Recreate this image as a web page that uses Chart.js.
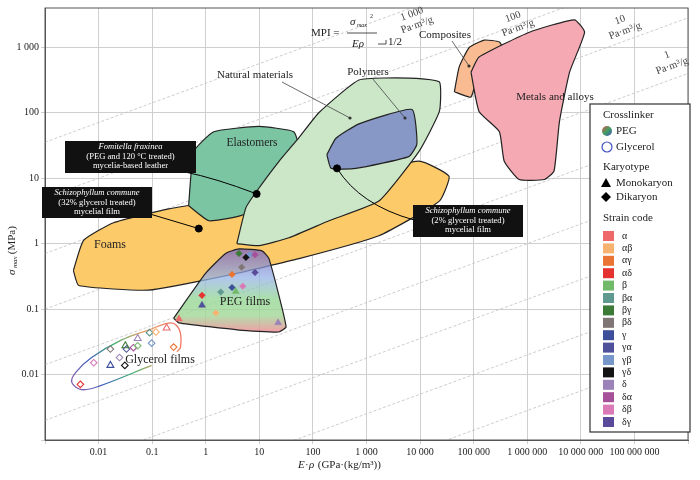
<!DOCTYPE html>
<html><head><meta charset="utf-8">
<script src="https://cdn.jsdelivr.net/npm/chart.js@4"></script>
<style>html,body{margin:0;padding:0;background:#fff}#w{width:700px;height:480px}</style>
</head><body><div id="w"><canvas id="c"></canvas></div>
<script>
// ---- data (log10 of E·rho, log10 of sigma_max) ----
const xTickExps = [-3,-2,-1,0,1,2,3,4,5,6,7,8,9];
const xTickLabels = ['', '0.01','0.1','1','10','100','1 000','10 000','100 000','1 000 000','10 000 000','100 000 000',''];
const yTickExps = [-3,-2,-1,0,1,2,3];
const yTickLabels = ['', '0.01','0.1','1','10','100','1 000'];

const foams = [[-2.47,-0.41],[-2.28,0.05],[-1.72,0.32],[-0.69,0.53],[0.62,0.71],[2.11,0.95],[3.98,1.26],[4.54,1.03],[4.36,0.65],[3.23,0.12],[1.74,-0.23],[0.43,-0.48],[-1.07,-0.71],[-2.37,-0.64]];
const natural = [[0.58,0.0],[0.75,0.55],[0.95,0.80],[1.36,1.25],[1.74,1.62],[2.11,2.0],[2.86,2.5],[3.79,2.53],[4.36,2.47],[4.36,2.02],[3.98,1.41],[3.23,0.65],[2.30,0.35],[1.55,0.09],[0.99,-0.03]];
const elastomers = [[-0.32,0.58],[-0.22,1.41],[0.15,1.71],[0.99,1.79],[1.64,1.71],[1.74,1.45],[1.36,0.80],[1.03,0.55],[0.62,0.42],[0.06,0.35]];
const polymers = [[2.26,1.36],[2.43,1.61],[2.86,1.83],[3.85,2.05],[3.94,1.52],[3.79,1.33],[2.80,1.15],[2.34,1.15]];
const composites = [[4.64,2.32],[4.73,2.70],[4.92,3.00],[5.20,3.11],[5.48,3.08],[5.57,2.92],[5.10,2.62],[4.95,2.24]];
const metals = [[4.95,2.62],[5.10,2.85],[6.04,3.23],[6.88,3.42],[7.07,3.23],[6.79,2.62],[6.60,1.86],[6.50,1.11],[6.32,0.98],[5.85,0.98],[5.57,1.26],[5.48,1.71],[5.10,2.02]];
const pegFilms = [[-0.60,-1.14],[0.0,-0.45],[0.37,-0.15],[0.62,-0.08],[1.05,-0.11],[1.18,-0.23],[1.50,-1.27],[1.36,-1.35],[0.62,-1.32],[-0.50,-1.21]];
const glycerolFilms = [[-1.01,-1.86],[-2.0,-2.18],[-2.32,-2.23],[-2.50,-2.12],[-2.43,-1.97],[-2.13,-1.74],[-1.57,-1.47],[-1.07,-1.32],[-0.64,-1.21],[-0.49,-1.32],[-0.47,-1.58],[-0.54,-1.65]];

const strainCodes = ['α','αβ','αγ','αδ','β','βα','βγ','βδ','γ','γα','γβ','γδ','δ','δα','δβ','δγ'];
const strainColors = ['#ee6a6a','#f8b26f','#ea7433','#e5312f','#72b96a','#5f9990','#3c7a38','#7f7675','#3e4f99','#4f519a','#7797cb','#141414','#9b82b8','#a6509a','#d97ab6','#5b4a9a'];

// PEG films (filled): [logx, logy, strain, shape]
const pegPts = [[0.62,-0.15,'βγ','d'],[0.82,-0.17,'γβ','d'],[0.92,-0.17,'δα','d'],[0.75,-0.21,'γδ','d'],[0.67,-0.36,'βδ','d'],[0.92,-0.44,'δγ','d'],[0.49,-0.47,'αγ','d'],[0.49,-0.67,'γ','d'],[0.69,-0.65,'δβ','d'],[0.56,-0.73,'β','t'],[0.28,-0.74,'βα','d'],[-0.07,-0.79,'αδ','d'],[-0.07,-0.94,'γα','t'],[0.19,-1.06,'αβ','d'],[-0.50,-1.15,'α','t'],[1.35,-1.21,'δ','t']];
// Glycerol films (hollow)
const glyPts = [[-2.34,-2.15,'αδ','d'],[-2.09,-1.82,'δβ','d'],[-1.78,-1.86,'γ','t'],[-1.61,-1.74,'δ','d'],[-1.51,-1.86,'γδ','d'],[-1.78,-1.61,'βδ','d'],[-1.48,-1.61,'γα','d'],[-1.50,-1.56,'βγ','t'],[-1.35,-1.59,'δα','d'],[-1.27,-1.56,'β','d'],[-1.27,-1.45,'δ','t'],[-1.05,-1.36,'βα','d'],[-1.01,-1.52,'γβ','d'],[-0.93,-1.35,'αβ','d'],[-0.73,-1.29,'α','t'],[-0.60,-1.58,'αγ','d']];
// highlighted samples
const highlight = [[0.95,0.76],[-0.13,0.23],[2.45,1.15]];
// MPI guide lines: log y = 0.3 log x + b
const mpiSlope = 0.3;
const mpiIntercepts = [2.45,1.6,0.75,-0.1,-0.95,-1.8,-2.65,-3.5,-4.35];

// ---- helpers ----
const P = a => ({x:Math.pow(10,a[0]), y:Math.pow(10,a[1])});
const closed = arr => arr.concat([arr[0]]).map(P);
const SERIF = '"Liberation Serif", "DejaVu Serif", serif';
const colorOf = s => strainColors[strainCodes.indexOf(s)];

function region(data, fill, order, extra){
  return Object.assign({type:'line', data:closed(data), borderColor:'#222', borderWidth:1.2, backgroundColor:fill, fill:'shape', pointRadius:0, tension:0.15, order:order}, extra||{});
}
function pegGradient(ctx){
  const ch = ctx.chart; if(!ch.chartArea) return 'rgba(160,170,220,0.7)';
  const ys = ch.scales.y;
  const t = ys.getPixelForValue(Math.pow(10,-0.08)), b = ys.getPixelForValue(Math.pow(10,-1.35));
  const g = ch.ctx.createLinearGradient(0,t,0,b);
  g.addColorStop(0,'rgba(120,95,190,0.75)');
  g.addColorStop(0.35,'rgba(150,180,230,0.75)');
  g.addColorStop(0.6,'rgba(150,215,150,0.8)');
  g.addColorStop(0.8,'rgba(160,215,150,0.8)');
  g.addColorStop(1,'rgba(240,140,150,0.85)');
  return g;
}
function glyGradient(ctx){
  const ch = ctx.chart; if(!ch.chartArea) return '#888';
  const xs = ch.scales.x, ys = ch.scales.y;
  const g = ch.ctx.createLinearGradient(xs.getPixelForValue(0.3), ys.getPixelForValue(0.06), xs.getPixelForValue(0.004), ys.getPixelForValue(0.007));
  g.addColorStop(0,'#f07060'); g.addColorStop(0.3,'#e8a060'); g.addColorStop(0.55,'#40b070'); g.addColorStop(0.8,'#4060c0'); g.addColorStop(1,'#8060b0');
  return g;
}
function pts(list, hollow, order){
  return {type:'scatter', data:list.map(p=>P(p)), order:order,
    pointStyle:list.map(p=>p[3]==='t'?'triangle':'rectRot'),
    pointRadius:list.map(p=>p[3]==='t'?4:3.3),
    pointBackgroundColor:list.map(p=>hollow?'rgba(255,255,255,0)':colorOf(p[2])),
    pointBorderColor:list.map(p=>colorOf(p[2])),
    pointBorderWidth:hollow?1.1:0.5, showLine:false};
}

const datasets = [];
mpiIntercepts.forEach(b=>datasets.push({type:'line', data:[-3,9].map(lx=>({x:Math.pow(10,lx),y:Math.pow(10,mpiSlope*lx+b)})), borderColor:'#c0c0c0', borderWidth:0.8, borderDash:[3,2], pointRadius:0, fill:false, order:100}));
datasets.push(region(foams,'#fdca6a',90));
datasets.push(region(elastomers,'#7cc5a3',88));
datasets.push(region(natural,'#cbe7c8',85));
datasets.push(region(polymers,'#8797c6',80));
datasets.push(region(composites,'#f8bb92',80));
datasets.push(region(metals,'#f5a9b3',75));
datasets.push(region(pegFilms,pegGradient,70));
datasets.push({type:'line', data:glycerolFilms.map(P), borderColor:glyGradient, borderWidth:1.3, pointRadius:0, fill:false, tension:0.35, order:70});
datasets.push(pts(pegPts,false,10));
datasets.push(pts(glyPts,true,10));
datasets.push({type:'scatter', data:highlight.map(P), pointRadius:3.5, pointBackgroundColor:'#000', pointBorderColor:'#000', order:5});

const overlay = {id:'overlay', afterDatasetsDraw(ch){
  const c = ch.ctx, xs = ch.scales.x, ys = ch.scales.y, A = ch.chartArea;
  const px = lx=>xs.getPixelForValue(Math.pow(10,lx)), py = ly=>ys.getPixelForValue(Math.pow(10,ly));
  c.save();
  c.strokeStyle='#555'; c.lineWidth=1; c.strokeRect(A.left,A.top,A.right-A.left,A.bottom-A.top);
  c.fillStyle='#222'; c.textBaseline='middle';
  const txt=(s,x,y,sz,al,st)=>{c.font=(st||'')+' '+sz+'px '+SERIF; c.textAlign=al||'left'; c.fillText(s,x,y);};
  // region labels
  txt('Foams',110,245,12,'center'); txt('Elastomers',252,143,11.5,'center');
  txt('Natural materials',255,75,11,'center'); txt('Polymers',368,72,11,'center');
  txt('Composites',445,35,11,'center'); txt('Metals and alloys',555,97,11,'center');
  txt('PEG films',245,302,12,'center'); txt('Glycerol films',160,360,12,'center');
  // leaders
  c.strokeStyle='#444'; c.lineWidth=0.8;
  const lead=(x1,y1,x2,y2)=>{c.beginPath();c.moveTo(x1,y1);c.lineTo(x2,y2);c.stroke();c.beginPath();c.arc(x2,y2,1.6,0,7);c.fillStyle='#333';c.fill();};
  lead(282,82,350,118); lead(372,78,405,118); lead(452,41,469,66);
  // MPI labels
  const rot=(s,x,y,sz)=>{c.save();c.translate(x,y);c.rotate(-0.35);c.font=sz+'px '+SERIF;c.textAlign='center';c.fillStyle='#444';c.fillText(s,0,0);c.restore();};
  [[412,14,'1 000'],[513,17,'100'],[620,20,'10'],[667,55,'1']].forEach(a=>{rot(a[2],a[0],a[1],10.5);rot('Pa·m³/g',a[0]+5,a[1]+11,10.5);});
  // formula
  c.fillStyle='#222';
  txt('MPI =',311,33,11); c.beginPath();c.moveTo(347,33);c.lineTo(377,33);c.lineWidth=0.8;c.strokeStyle='#222';c.stroke();
  txt('σ',350,22,11,'left','italic'); txt('max',357,25,6,'left','italic'); txt('2',370,16,6);
  txt('Eρ',352,44,11,'left','italic');
  c.beginPath();c.moveTo(386,40);c.lineTo(386,44);c.lineTo(378,44);c.stroke(); txt('1/2',388,42,11);
  // annotation boxes
  c.strokeStyle='#000'; c.lineWidth=1;
  c.beginPath();c.moveTo(185,172);c.quadraticCurveTo(215,178,px(highlight[0][0]),py(highlight[0][1]));c.stroke();
  c.beginPath();c.moveTo(150,214);c.lineTo(px(highlight[1][0]),py(highlight[1][1]));c.stroke();
  c.beginPath();c.moveTo(px(highlight[2][0]),py(highlight[2][1]));c.quadraticCurveTo(360,205,414,220);c.stroke();
  const box=(x,y,w,h,lines)=>{c.fillStyle='#111';c.fillRect(x,y,w,h);c.fillStyle='#fff';lines.forEach((l,i)=>txt(l[0],x+w/2,y+6+i*9.5,8.6,'center',l[1]));};
  box(65,141,131,32,[['Fomitella fraxinea','italic'],['(PEG and 120 °C treated)',''],['mycelia-based leather','']]);
  box(42,187,110,31,[['Schizophyllum commune','italic'],['(32% glycerol treated)',''],['mycelial film','']]);
  box(413,205,110,32,[['Schizophyllum commune','italic'],['(2% glycerol treated)',''],['mycelial film','']]);
  // axis titles
  c.fillStyle='#222';
  c.font='italic 11px '+SERIF; c.textAlign='left'; c.fillText('E',298,465);
  c.font='11px '+SERIF; c.fillText('·',305,465); c.font='italic 11px '+SERIF; c.fillText('ρ',309,465);
  c.font='11px '+SERIF; c.fillText(' (GPa·(kg/m³))',315,465);
  c.save(); c.translate(12,245); c.rotate(-Math.PI/2);
  c.font='italic 11px '+SERIF; c.textAlign='left'; c.fillText('σ',-30,0); c.font='italic 7px '+SERIF; c.fillText('max',-23,3);
  c.font='11px '+SERIF; c.fillText(' (MPa)',-12,0); c.restore();
  // legend
  const L=590,T=104; c.fillStyle='#fff'; c.fillRect(L,T,100,328); c.strokeStyle='#333'; c.lineWidth=1.2; c.strokeRect(L,T,100,328);
  c.fillStyle='#222';
  txt('Crosslinker',603,115,11);
  const cg=c.createLinearGradient(602,126,612,136); cg.addColorStop(0,'#e05050');cg.addColorStop(0.5,'#40a060');cg.addColorStop(1,'#4050c0');
  c.beginPath();c.arc(607,131,5,0,7);c.fillStyle=cg;c.fill(); c.fillStyle='#222'; txt('PEG',616,131,11);
  c.beginPath();c.arc(607,147,5,0,7);c.strokeStyle=cg;c.lineWidth=1.2;c.stroke(); txt('Glycerol',616,147,11);
  txt('Karyotype',603,167,11);
  c.beginPath();c.moveTo(606,178);c.lineTo(611,187);c.lineTo(601,187);c.closePath();c.fillStyle='#000';c.fill();
  c.fillStyle='#222'; txt('Monokaryon',616,183,11);
  c.beginPath();c.moveTo(606,192);c.lineTo(611,197);c.lineTo(606,202);c.lineTo(601,197);c.closePath();c.fillStyle='#000';c.fill();
  c.fillStyle='#222'; txt('Dikaryon',616,197,11);
  txt('Strain code',603,218,11);
  strainCodes.forEach((s,i)=>{const y=236+i*12.4; c.fillStyle=strainColors[i]; c.fillRect(603,y-5,11,10); c.fillStyle='#222'; txt(s,622,y,10);});
  c.restore();
}};

new Chart(document.getElementById('c'),{
  data:{datasets},
  options:{responsive:true, maintainAspectRatio:false, animation:false,
    layout:{padding:{top:5,right:12,left:0,bottom:0}},
    plugins:{legend:{display:false}, tooltip:{enabled:false}},
    scales:{
      x:{type:'logarithmic', min:1e-3, max:1e9,
        afterBuildTicks:s=>{s.ticks=xTickExps.map(e=>({value:Math.pow(10,e)}));},
        afterFit:s=>{s.height=40;},
        ticks:{autoSkip:false, maxRotation:0, color:'#222', font:{family:SERIF,size:10}, padding:2,
          callback:(v)=>xTickLabels[xTickExps.indexOf(Math.round(Math.log10(v)))]},
        grid:{color:'#cfcfcf', borderDash:[2,2], tickLength:4},
        border:{display:true,color:'#555'}},
      y:{type:'logarithmic', min:1e-3, max:Math.pow(10,3.6),
        afterBuildTicks:s=>{s.ticks=yTickExps.map(e=>({value:Math.pow(10,e)}));},
        afterFit:s=>{s.width=45;},
        ticks:{autoSkip:false, color:'#222', font:{family:SERIF,size:10}, padding:2,
          callback:(v)=>yTickLabels[yTickExps.indexOf(Math.round(Math.log10(v)))]},
        grid:{color:'#cfcfcf', borderDash:[2,2], tickLength:4},
        border:{display:true,color:'#555'}}
    }
  },
  plugins:[overlay]
});
</script></body></html>
